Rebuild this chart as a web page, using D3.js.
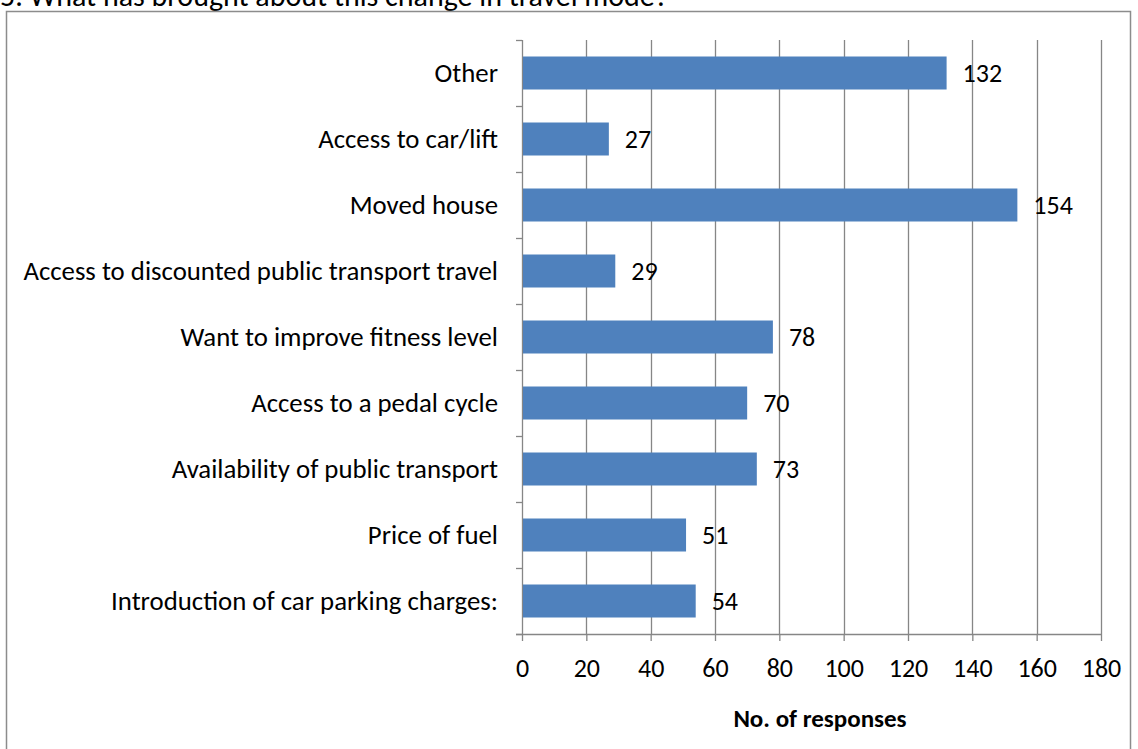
<!DOCTYPE html>
<html><head><meta charset="utf-8">
<script src="https://cdn.jsdelivr.net/npm/d3@7"></script>
<style>body{margin:0;background:#fff}svg{display:block}</style>
</head><body>
<svg id="c" width="1138" height="749"></svg>
<script>
const categories = ["Other","Access to car/lift","Moved house","Access to discounted public transport travel","Want to improve fitness level","Access to a pedal cycle","Availability of public transport","Price of fuel","Introduction of car parking charges:"];
const values = [132,27,154,29,78,70,73,51,54];
const xTicks = [0,20,40,60,80,100,120,140,160,180];
const titleText = "5. What has brought about this change in travel mode?";
const xAxisTitle = "No. of responses";

(function(){
const svg = d3.select("#c");
const font = "Carlito, Calibri, 'Liberation Sans', Arial, sans-serif";
const grid = "#868686";
const fs = 26;
const pl = 522, pr = 1101, pt = 40, pb = 634;

svg.append("text").attr("x",0).attr("y",6).attr("font-family",font).attr("font-size",30).attr("fill","#000").text(titleText);
svg.append("rect").attr("x",6.5).attr("y",11.5).attr("width",1124).attr("height",760).attr("fill","none").attr("stroke","#8c8c8c").attr("stroke-width",1.5);

const x = d3.scaleLinear().domain([0,180]).range([pl,pr]);
const y = d3.scaleBand().domain(categories).range([pt,pb]).paddingInner(0.5).paddingOuter(0.25);

// gridlines
svg.append("g").selectAll("line").data(xTicks.slice(1)).join("line")
  .attr("x1",d=>Math.round(x(d))+0.5).attr("x2",d=>Math.round(x(d))+0.5)
  .attr("y1",pt).attr("y2",pb).attr("stroke",grid).attr("stroke-width",1.3);

// x axis
const xa = svg.append("g").attr("transform",`translate(0,${pb})`)
  .call(d3.axisBottom(x).tickValues(xTicks).tickSize(7).tickPadding(18).tickSizeOuter(0));
xa.select(".domain").attr("stroke",grid).attr("stroke-width",1.3).attr("d",`M${pl-6},0.5H${pr}`);
xa.selectAll(".tick line").attr("stroke",grid).attr("stroke-width",1.3);
xa.selectAll(".tick text").attr("font-family",font).attr("font-size",fs).attr("fill","#000");

// y axis with boundary ticks
const bounds = d3.range(categories.length+1).map(i=>pt + i*(pb-pt)/categories.length);
const ya = svg.append("g");
ya.append("line").attr("x1",pl+0.5).attr("x2",pl+0.5).attr("y1",pt).attr("y2",pb).attr("stroke",grid).attr("stroke-width",1.3);
ya.selectAll("line.t").data(bounds).join("line").attr("class","t")
  .attr("x1",pl-6).attr("x2",pl).attr("y1",d=>Math.round(d)+0.5).attr("y2",d=>Math.round(d)+0.5).attr("stroke",grid).attr("stroke-width",1.3);

// category labels
svg.append("g").selectAll("text").data(categories).join("text")
  .attr("x",498).attr("y",d=>y(d)+y.bandwidth()/2).attr("dy","0.35em").attr("text-anchor","end")
  .attr("font-family",font).attr("font-size",26.8).attr("fill","#000").text(d=>d);

// bars
const data = categories.map((c,i)=>({c,v:values[i]}));
svg.append("g").selectAll("rect").data(data).join("rect")
  .attr("x",x(0)+1).attr("y",d=>y(d.c)).attr("width",d=>x(d.v)-x(0)-1).attr("height",y.bandwidth()).attr("fill","#4F81BD");

// value labels
svg.append("g").selectAll("text").data(data).join("text")
  .attr("x",d=>x(d.v)+16).attr("y",d=>y(d.c)+y.bandwidth()/2).attr("dy","0.35em")
  .attr("font-family",font).attr("font-size",fs).attr("fill","#000").text(d=>d.v);

// x axis title
svg.append("text").attr("x",820).attr("y",727).attr("text-anchor","middle")
  .attr("font-family",font).attr("font-size",25).attr("font-weight","bold").attr("fill","#000").text(xAxisTitle);
})();
</script>
</body></html>
